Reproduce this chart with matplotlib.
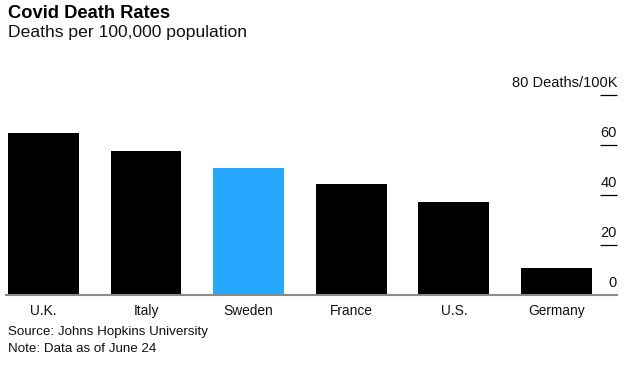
import matplotlib
matplotlib.use("Agg")
import matplotlib.pyplot as plt
import matplotlib.transforms as mtransforms

countries = ["U.K.", "Italy", "Sweden", "France", "U.S.", "Germany"]
rates = [64.9, 57.6, 50.7, 44.4, 37.2, 10.7]
highlight = "Sweden"
ytick_vals = [0, 20, 40, 60, 80]
ytick_labels = ["0", "20", "40", "60", "80 Deaths/100K"]

plt.rcParams['font.family'] = ['Liberation Sans', 'DejaVu Sans']

W, H = 633, 369
fig = plt.figure(figsize=(W / 100, H / 100), dpi=100)
ax = fig.add_axes([6 / W, (H - 295) / H, (617 - 6) / W, 200 / H])

colors = ["#26a8ff" if c == highlight else "black" for c in countries]
x = list(range(len(countries)))
ax.bar(x, rates, width=0.69, color=colors, zorder=2)

ax.set_xlim(-0.365, 5.59)
ax.set_ylim(0, 80)

for s in ["top", "left", "right"]:
    ax.spines[s].set_visible(False)
ax.spines["bottom"].set_color("#8a8a8a")
ax.spines["bottom"].set_linewidth(1.5)
ax.spines["bottom"].set_zorder(3)

ax.set_xticks(x)
ax.set_xticklabels(countries, fontsize=9.9, color="#111111")
ax.tick_params(axis="x", length=0, pad=6.5)

ax.yaxis.tick_right()
ax.set_yticks([v for v in ytick_vals if v > 0])
ax.tick_params(axis="y", direction="in", length=12.5, width=0.9, color="black",
               labelright=False, labelleft=False)

trans = mtransforms.blended_transform_factory(ax.transAxes, ax.transData)
off = mtransforms.offset_copy(trans, fig=fig, x=0, y=8, units="dots")
for v, lab in zip(ytick_vals, ytick_labels):
    ax.text(1.0, v, lab, transform=off, ha="right", va="baseline",
            fontsize=10.5, color="#111111", clip_on=False)

fig.text(8 / W, 1 - 5 / H, "Covid Death Rates", ha="left", va="top",
         fontsize=13.2, fontweight="bold", color="black")
fig.text(8 / W, 1 - 25.5 / H, "Deaths per 100,000 population", ha="left", va="top",
         fontsize=12.6, color="#111111")
fig.text(8 / W, 1 - 326.5 / H, "Source: Johns Hopkins University", ha="left", va="top",
         fontsize=9.6, color="#111111")
fig.text(8 / W, 1 - 342.5 / H, "Note: Data as of June 24", ha="left", va="top",
         fontsize=9.6, color="#111111")

fig.savefig("out.png", dpi=100)
